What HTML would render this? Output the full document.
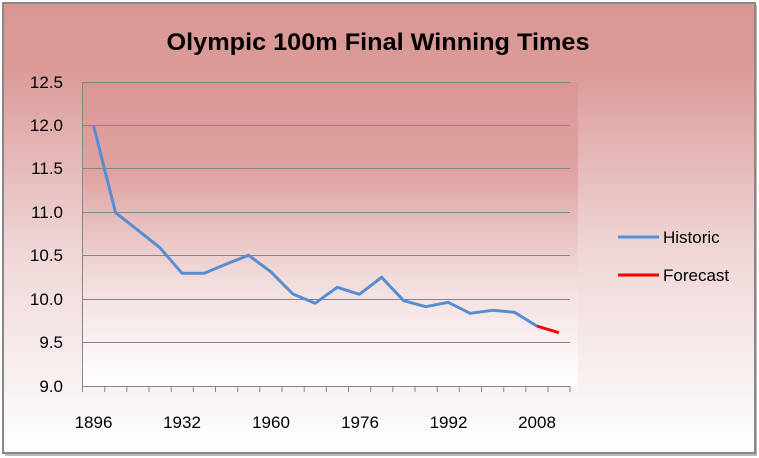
<!DOCTYPE html>
<html><head><meta charset="utf-8"><style>html,body{margin:0;padding:0;background:#fff}</style></head>
<body>
<svg width="759" height="458" xmlns="http://www.w3.org/2000/svg" style="display:block;font-family:'Liberation Sans',sans-serif">
<defs>
<linearGradient id="bg" x1="0" y1="0" x2="0" y2="1">
<stop offset="0" stop-color="#d99694"/><stop offset="0.15" stop-color="#db9b99"/><stop offset="0.55" stop-color="#efd6d6"/><stop offset="1" stop-color="#ffffff"/>
</linearGradient>
<linearGradient id="pa" x1="0" y1="0" x2="0" y2="1">
<stop offset="0" stop-color="#d99694"/><stop offset="0.3" stop-color="#dea3a2"/><stop offset="0.65" stop-color="#f2dcdc"/><stop offset="1" stop-color="#ffffff"/>
</linearGradient>
</defs>
<rect x="0" y="0" width="759" height="458" fill="#fff"/>
<rect x="5" y="5" width="752" height="451" fill="#bbb"/>
<rect x="3" y="3" width="752" height="450" fill="url(#bg)" stroke="#888" stroke-width="2"/>
<rect x="82" y="82" width="496" height="304" fill="url(#pa)"/>
<text x="378" y="50" text-anchor="middle" font-size="24" font-weight="bold" textLength="423" lengthAdjust="spacingAndGlyphs" fill="#000">Olympic 100m Final Winning Times</text>
<g stroke="#868686" stroke-width="1">
<line x1="82" y1="82.5" x2="570" y2="82.5"/>
<line x1="82" y1="125.5" x2="570" y2="125.5"/>
<line x1="82" y1="168.5" x2="570" y2="168.5"/>
<line x1="82" y1="212.5" x2="570" y2="212.5"/>
<line x1="82" y1="255.5" x2="570" y2="255.5"/>
<line x1="82" y1="299.5" x2="570" y2="299.5"/>
<line x1="82" y1="342.5" x2="570" y2="342.5"/>
<line x1="82" y1="386.5" x2="570" y2="386.5"/>
<line x1="82.5" y1="82" x2="82.5" y2="386"/>
<path d="M82.5 386v6M104.7 386v6M126.8 386v6M149 386v6M171.2 386v6M193.3 386v6M215.5 386v6M237.7 386v6M259.8 386v6M282 386v6M304.2 386v6M326.3 386v6M348.5 386v6M370.7 386v6M392.8 386v6M415 386v6M437.2 386v6M459.3 386v6M481.5 386v6M503.7 386v6M525.8 386v6M548 386v6M570 386v6"/>
</g>
<g font-size="17" fill="#000" text-anchor="end">
<text x="63" y="88">12.5</text><text x="63" y="131">12.0</text><text x="63" y="174">11.5</text><text x="63" y="218">11.0</text><text x="63" y="261">10.5</text><text x="63" y="305">10.0</text><text x="63" y="348">9.5</text><text x="63" y="392">9.0</text>
</g>
<g font-size="17" fill="#000" text-anchor="middle">
<text x="93.5" y="428">1896</text><text x="182" y="428">1932</text><text x="271" y="428">1960</text><text x="360" y="428">1976</text><text x="448.5" y="428">1992</text><text x="537" y="428">2008</text>
</g>
<polyline fill="none" stroke="#558ed5" stroke-width="3" stroke-linejoin="round" points="93.4,125 115.6,212.7 137.7,230 159.9,247.7 182.1,273.3 204.2,273.3 226.4,264 248.6,255.3 270.7,271.7 292.9,294 315.1,303.3 337.2,287.3 359.4,294.3 381.6,277.3 403.7,300.7 425.9,306.7 448.1,302.3 470.2,313.3 492.4,310.3 514.6,312.3 536.7,326"/>
<polyline fill="none" stroke="#ff0000" stroke-width="3" points="536.7,326 558.9,332.7"/>
<line x1="618" y1="237" x2="659" y2="237" stroke="#558ed5" stroke-width="3"/>
<line x1="618" y1="275" x2="659" y2="275" stroke="#ff0000" stroke-width="3"/>
<g font-size="17" fill="#000"><text x="663" y="243">Historic</text><text x="663" y="281">Forecast</text></g>
</svg>
</body></html>
